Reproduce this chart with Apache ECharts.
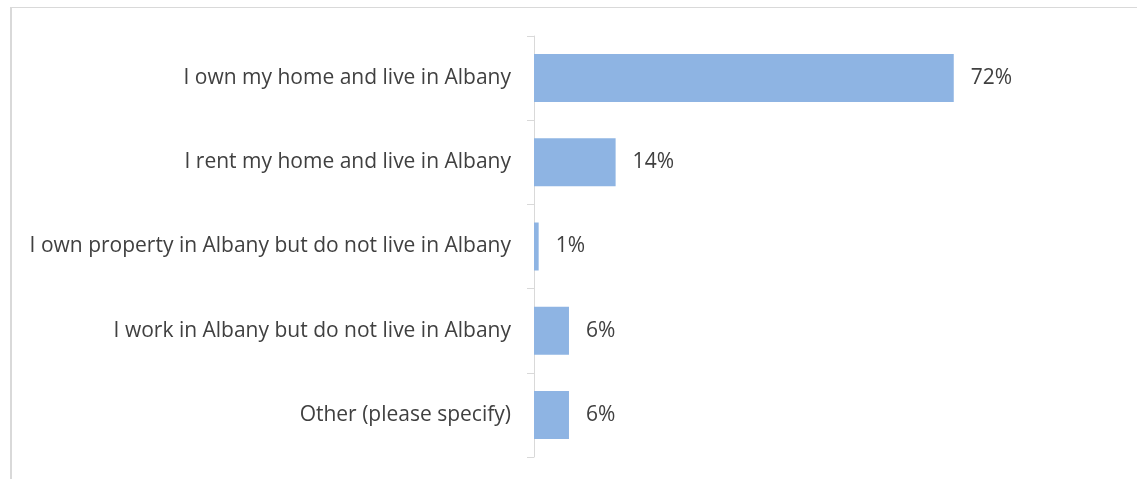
<!DOCTYPE html>
<html>
<head>
<meta charset="utf-8">
<script src="https://cdn.jsdelivr.net/npm/echarts@6/dist/echarts.min.js"></script>
<style>
html, body { margin: 0; padding: 0; background: #fff; }
#frame { position: absolute; left: 10px; top: 7px; width: 1140px; height: 480px;
         border-top: 1px solid #d9d9d9; border-left: 2px solid #d9d9d9; }
#chart { position: absolute; left: 0; top: 0; width: 1137px; height: 479px; }
</style>
</head>
<body>
<div id="frame"></div>
<div id="chart"></div>
<script>
var categories = [
  'I own my home and live in Albany',
  'I rent my home and live in Albany',
  'I own property in Albany but do not live in Albany',
  'I work in Albany but do not live in Albany',
  'Other (please specify)'
];
var values = [72, 14, 0.8, 6, 6];
var labels = ['72%', '14%', '1%', '6%', '6%'];

var myChart = echarts.init(document.getElementById('chart'));
var option = {
  animation: false,
  grid: { left: 534, right: 20, top: 36, bottom: 22, containLabel: false },
  xAxis: {
    type: 'value',
    min: 0,
    max: 100,
    show: false
  },
  yAxis: {
    type: 'category',
    inverse: true,
    data: categories,
    axisLine: { show: true, lineStyle: { color: '#d9d9d9', width: 1 } },
    axisTick: { show: true, length: 7, lineStyle: { color: '#d9d9d9' } },
    axisLabel: {
      margin: 23,
      color: '#404040',
      fontFamily: 'Open Sans',
      fontSize: 21
    }
  },
  series: [
    {
      type: 'bar',
      data: values,
      barWidth: '57%',
      itemStyle: { color: '#8eb4e3' },
      label: {
        show: true,
        position: 'right',
        distance: 17,
        formatter: function (p) { return labels[p.dataIndex]; },
        color: '#404040',
        fontFamily: 'Open Sans',
        fontSize: 21
      }
    }
  ]
};
myChart.setOption(option);
</script>
</body>
</html>
